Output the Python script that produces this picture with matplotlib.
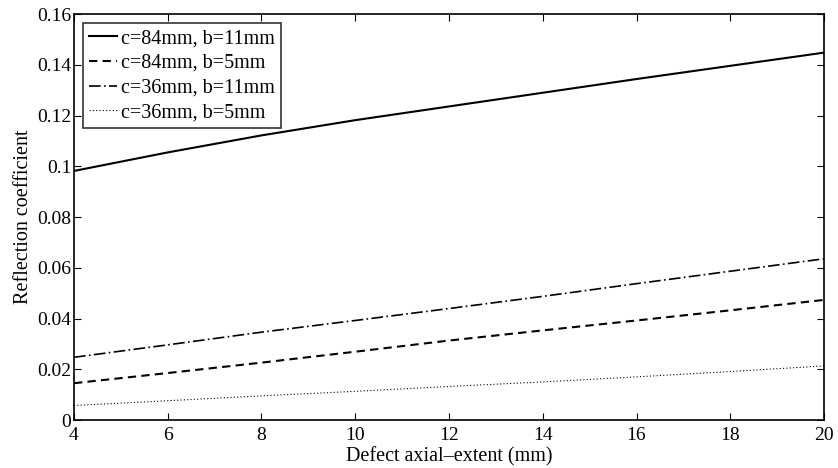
import matplotlib
matplotlib.use("Agg")
import matplotlib.pyplot as plt

plt.rcParams['font.family'] = ['Liberation Serif', 'DejaVu Serif']
plt.rcParams['mathtext.fontset'] = 'stix'

extent_mm = [4, 6, 8, 10, 12, 14, 16, 18, 20]
r_c84_b11 = [0.0982, 0.1055, 0.1122, 0.1182, 0.1236, 0.1290, 0.1344, 0.1396, 0.1448]
r_c84_b5 = [0.0146, 0.0186, 0.0227, 0.0270, 0.0314, 0.0354, 0.0393, 0.0433, 0.0474]
r_c36_b11 = [0.0248, 0.0297, 0.0347, 0.0393, 0.0440, 0.0488, 0.0538, 0.0587, 0.0636]
r_c36_b5 = [0.0058, 0.0077, 0.0096, 0.0114, 0.0133, 0.0151, 0.0171, 0.0192, 0.0214]

labels = ["c=84mm, b=11mm", "c=84mm, b=5mm", "c=36mm, b=11mm", "c=36mm, b=5mm"]
x_ticks = [4, 6, 8, 10, 12, 14, 16, 18, 20]
y_ticks = [0, 0.02, 0.04, 0.06, 0.08, 0.1, 0.12, 0.14, 0.16]
y_tick_labels = ["0", "0.02", "0.04", "0.06", "0.08", "0.1", "0.12", "0.14", "0.16"]

fig = plt.figure(figsize=(8.38, 4.68), dpi=100)
ax = fig.add_axes([0.0883, 0.102, 0.895, 0.868])

ax.plot(extent_mm, r_c84_b11, color='black', lw=1.5, ls='-', label=labels[0])
ax.plot(extent_mm, r_c84_b5, color='black', lw=1.5, ls=(0, (4, 2.5)), label=labels[1])
ax.plot(extent_mm, r_c36_b11, color='black', lw=1.2, ls=(0, (7, 2, 1, 2)), label=labels[2])
ax.plot(extent_mm, r_c36_b5, color='black', lw=0.8, ls=(0, (1, 2)), label=labels[3])

ax.set_xlim(4, 20)
ax.set_ylim(0, 0.16)
ax.set_xticks(x_ticks)
ax.set_yticks(y_ticks)
ax.set_yticklabels(y_tick_labels)
ax.tick_params(direction='in', top=True, right=True, labelsize=14, length=5, width=0.8)
ax.tick_params(axis='x', pad=5)
ax.tick_params(axis='y', pad=2)
for s in ax.spines.values():
    s.set_linewidth(1.2)

ax.set_xlabel("Defect axial\u2013extent (mm)", fontsize=14.5, labelpad=2)
ax.set_ylabel("Reflection coefficient", fontsize=14.5, labelpad=3)

leg = ax.legend(loc='upper left', fontsize=14.5, frameon=True, fancybox=False,
                edgecolor='black', handlelength=1.4, handletextpad=0.2,
                borderpad=0.3, labelspacing=0.28, borderaxespad=0.45)
leg.get_frame().set_linewidth(1.2)

fig.savefig("out.png", dpi=100)
